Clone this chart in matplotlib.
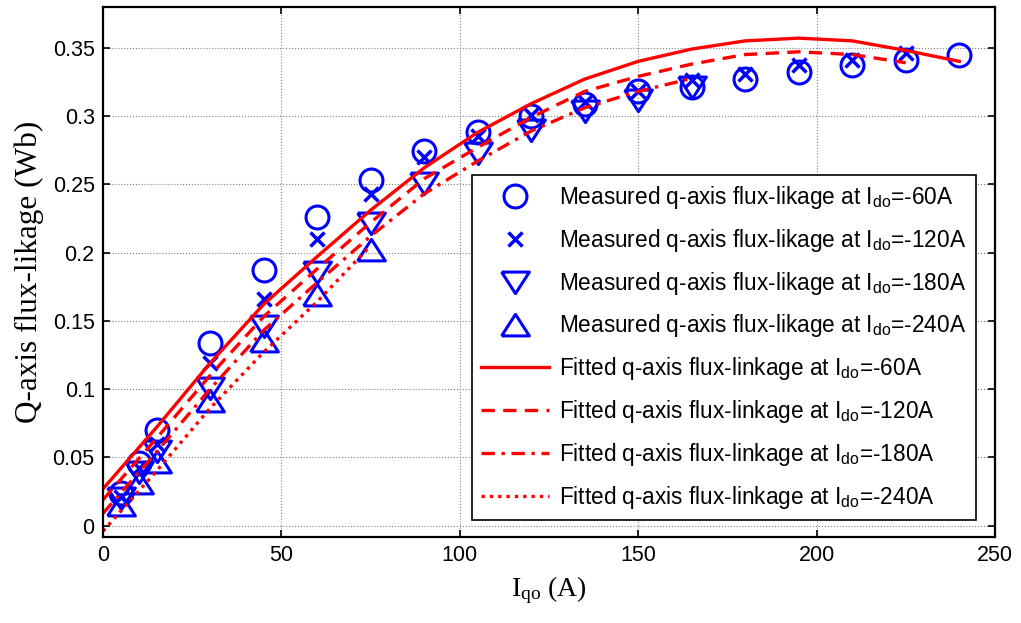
import matplotlib
matplotlib.use("Agg")
import matplotlib.pyplot as plt
from matplotlib.ticker import FuncFormatter

plt.rcParams["font.family"] = ["Liberation Sans", "DejaVu Sans"]
plt.rcParams["mathtext.default"] = "regular"

# measured q-axis flux linkage (Wb) vs q-axis current (A)
iq_60 = [5, 10, 15, 30, 45, 60, 75, 90, 105, 120, 135, 150, 165, 180, 195, 210, 225, 240]
psi_60 = [0.024, 0.046, 0.070, 0.134, 0.187, 0.226, 0.253, 0.274, 0.288, 0.300, 0.309,
          0.318, 0.321, 0.327, 0.332, 0.337, 0.341, 0.345]

iq_120 = [5, 10, 15, 30, 45, 60, 75, 90, 105, 120, 135, 150, 165, 180, 195, 210, 225]
psi_120 = [0.021, 0.042, 0.060, 0.119, 0.166, 0.210, 0.243, 0.270, 0.285, 0.301, 0.310,
           0.318, 0.326, 0.331, 0.337, 0.341, 0.346]

iq_180 = [5, 10, 15, 30, 45, 60, 75, 90, 105, 120, 135, 150, 165]
psi_180 = [0.020, 0.039, 0.055, 0.101, 0.146, 0.186, 0.222, 0.251, 0.273, 0.290, 0.304,
           0.312, 0.321]

iq_240 = [5, 10, 15, 30, 45, 60, 75]
psi_240 = [0.015, 0.031, 0.047, 0.091, 0.135, 0.169, 0.202]

# fitted curves
fit_iq_60 = [0, 15, 30, 45, 60, 75, 90, 105, 120, 135, 150, 165, 180, 195, 210, 225, 240]
fit_60 = [0.027, 0.072, 0.119, 0.162, 0.197, 0.231, 0.262, 0.288, 0.309, 0.327, 0.340,
          0.349, 0.355, 0.357, 0.355, 0.348, 0.340]

fit_iq_120 = [0, 15, 30, 45, 60, 75, 90, 105, 120, 135, 150, 165, 180, 195, 210, 225]
fit_120 = [0.019, 0.064, 0.110, 0.153, 0.188, 0.222, 0.254, 0.277, 0.299, 0.318, 0.329,
           0.338, 0.345, 0.347, 0.345, 0.339]

fit_iq_180 = [0, 15, 30, 45, 60, 75, 90, 105, 120, 135, 150, 165]
fit_180 = [0.009, 0.054, 0.100, 0.143, 0.178, 0.212, 0.243, 0.267, 0.289, 0.306, 0.318, 0.3275]

fit_iq_240 = [0, 15, 30, 45, 60, 75]
fit_240 = [-0.004, 0.040, 0.086, 0.127, 0.164, 0.205]

# wide, flat triangles like the original markers
tri_down = [(-1, 0.75), (1, 0.75), (0, -0.8), (-1, 0.75)]
tri_up = [(-1, -0.75), (1, -0.75), (0, 0.8), (-1, -0.75)]

fig = plt.figure(figsize=(10.21, 6.23), dpi=100)
ax = fig.add_axes([0.1009, 0.138, 0.8736, 0.8512])

ax.plot(iq_60, psi_60, linestyle="none", marker="o", ms=16.5, mfc="none", mec="b", mew=2.2,
        label="Measured q-axis flux-likage at I$_{do}$=-60A")
ax.plot(iq_120, psi_120, linestyle="none", marker="x", ms=10, mec="b", mew=2.5,
        label="Measured q-axis flux-likage at I$_{do}$=-120A")
ax.plot(iq_180, psi_180, linestyle="none", marker=tri_down, ms=20, mfc="none", mec="b", mew=2.2,
        label="Measured q-axis flux-likage at I$_{do}$=-180A")
ax.plot(iq_240, psi_240, linestyle="none", marker=tri_up, ms=20, mfc="none", mec="b", mew=2.2,
        label="Measured q-axis flux-likage at I$_{do}$=-240A")

ax.plot(fit_iq_60, fit_60, "-", color="r", lw=2.4,
        label="Fitted q-axis flux-linkage at I$_{do}$=-60A")
ax.plot(fit_iq_120, fit_120, "--", color="r", lw=2.4, dashes=(4, 2.5),
        label="Fitted q-axis flux-linkage at I$_{do}$=-120A")
ax.plot(fit_iq_180, fit_180, "-.", color="r", lw=2.4, dashes=(4, 2, 1, 2),
        label="Fitted q-axis flux-linkage at I$_{do}$=-180A")
ax.plot(fit_iq_240, fit_240, ":", color="r", lw=2.4, dashes=(1, 1.5),
        label="Fitted q-axis flux-linkage at I$_{do}$=-240A")

ax.set_xlim(0, 250)
ax.set_ylim(-0.0083, 0.38)
ax.set_xticks([0, 50, 100, 150, 200, 250])
ax.set_yticks([0, 0.05, 0.1, 0.15, 0.2, 0.25, 0.3, 0.35])
ax.yaxis.set_major_formatter(FuncFormatter(lambda v, p: "%g" % round(v, 3)))
ax.tick_params(direction="in", top=True, right=True, length=5, width=1.2,
               labelsize=15.5, pad=6)
ax.grid(True, color="#808080", linestyle=":", linewidth=0.8)
for s in ax.spines.values():
    s.set_linewidth(1.6)

ax.set_xlabel("I$_{qo}$ (A)", family="Liberation Serif", fontsize=20, labelpad=6)
ax.set_ylabel("Q-axis flux-likage (Wb)", family="Liberation Serif", fontsize=22.5, labelpad=6)

leg = ax.legend(loc="upper left", bbox_to_anchor=(0.414, 0.683), fontsize=16.3,
                fancybox=False, framealpha=1, edgecolor="k", handlelength=3.0,
                handletextpad=0.45, labelspacing=0.7, borderaxespad=0, borderpad=0.4)
leg.get_frame().set_linewidth(1.2)

fig.savefig("out.png", dpi=100)
